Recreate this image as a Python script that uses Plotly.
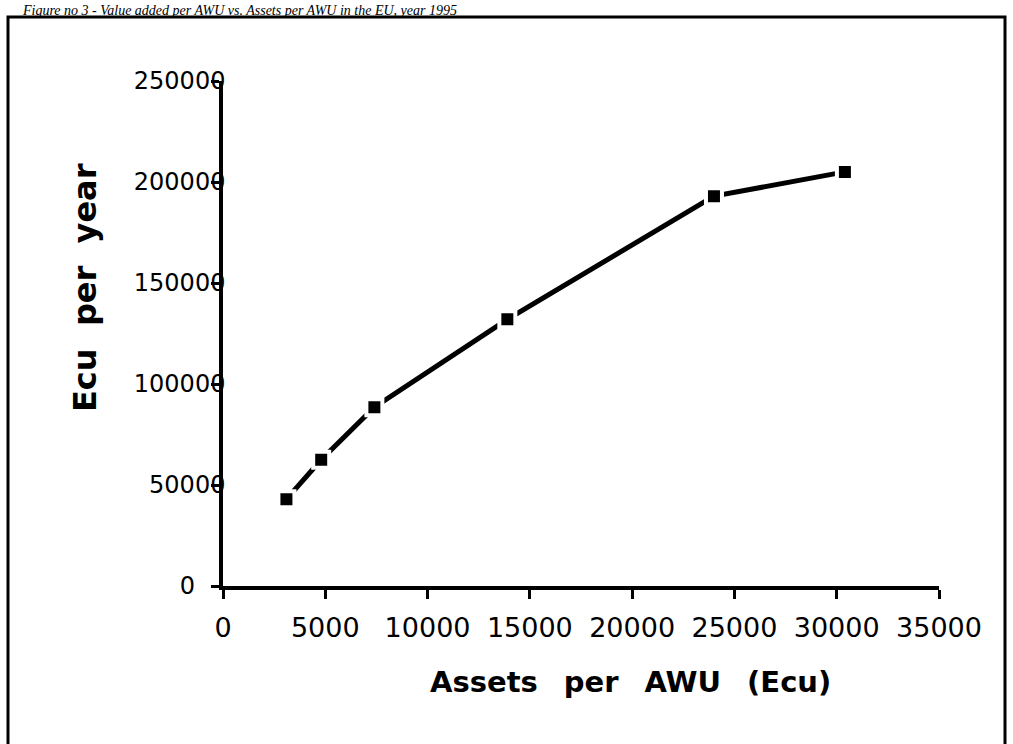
import plotly.graph_objects as go

# Data
assets_per_awu = [3100, 4800, 7400, 13900, 24000, 30400]
ecu_per_year = [43000, 62500, 88500, 132000, 193000, 205000]

x_ticks = [0, 5000, 10000, 15000, 20000, 25000, 30000, 35000]
y_ticks = [0, 50000, 100000, 150000, 200000, 250000]
y_tick_labels = ["0\u2007\u2007", "50000", "100000", "150000", "200000", "250000"]

W, H = 1013, 744
L, R, T, B = 223, 74, 81, 158
PW, PH = W - L - R, H - T - B


def px2paper(px, py):
    return (px - L) / PW, (H - B - py) / PH


fig = go.Figure()
fig.add_trace(go.Scatter(
    x=assets_per_awu, y=ecu_per_year, mode="lines+markers",
    line=dict(color="black", width=5),
    marker=dict(symbol="square", size=16, color="black",
                line=dict(color="white", width=4)),
    cliponaxis=False, showlegend=False,
))

tickfont_y = dict(family="DejaVu Sans", size=24, color="black")
tickfont_x = dict(family="DejaVu Sans", size=27, color="black")

fig.update_xaxes(
    range=[0, 35000], tickvals=x_ticks, ticktext=[str(v) for v in x_ticks],
    showgrid=False, zeroline=False, showline=True, linecolor="black", linewidth=3.5,
    ticks="outside", ticklen=9, tickwidth=3, tickcolor="black",
    tickfont=tickfont_x, ticklabelstandoff=6,
)
fig.update_yaxes(
    range=[0, 250000], tickvals=y_ticks, ticktext=y_tick_labels,
    showgrid=False, zeroline=False, showline=True, linecolor="black", linewidth=3.5,
    ticks="outside", ticklen=8, tickwidth=3, tickcolor="black",
    tickfont=tickfont_y, ticklabelstandoff=-19,
)

annotations = []
# x axis title
ax, ay = px2paper(630, 682)
annotations.append(dict(
    x=ax, y=ay, xref="paper", yref="paper", xanchor="center", yanchor="middle",
    text="Assets\u00a0\u2009 per\u00a0\u2009 AWU\u00a0\u2009 (Ecu)", showarrow=False,
    font=dict(family="DejaVu Sans", size=29, color="black", weight="bold"),
))
# y axis title
ax, ay = px2paper(85, 288)
annotations.append(dict(
    x=ax, y=ay, xref="paper", yref="paper", xanchor="center", yanchor="middle",
    text="Ecu\u00a0 per\u00a0 year", showarrow=False, textangle=-90,
    font=dict(family="DejaVu Sans", size=32, color="black", weight="bold"),
))
# caption at top
ax, ay = px2paper(20, 1)
annotations.append(dict(
    x=ax, y=ay, xref="paper", yref="paper", xanchor="left", yanchor="top",
    text="Figure no 3 - Value added per AWU vs. Assets per AWU in the EU, year 1995",
    showarrow=False,
    font=dict(family="Liberation Serif", size=14, color="black", style="italic"),
))

# frame around the chart
x0, y0 = px2paper(8, 17)
x1, _ = px2paper(1005, 17)
_, yb = px2paper(8, 760)
shapes = [dict(type="rect", xref="paper", yref="paper", x0=x0, y0=yb, x1=x1, y1=y0,
               line=dict(color="black", width=3), fillcolor="rgba(0,0,0,0)")]

fig.update_layout(
    width=W, height=H,
    margin=dict(l=L, r=R, t=T, b=B, pad=0),
    paper_bgcolor="white", plot_bgcolor="white",
    annotations=annotations, shapes=shapes,
)

fig.write_html(
    "out.html",
    config={"displayModeBar": False},
    post_script="document.body.style.margin='0';document.body.style.overflow='hidden';",
)
